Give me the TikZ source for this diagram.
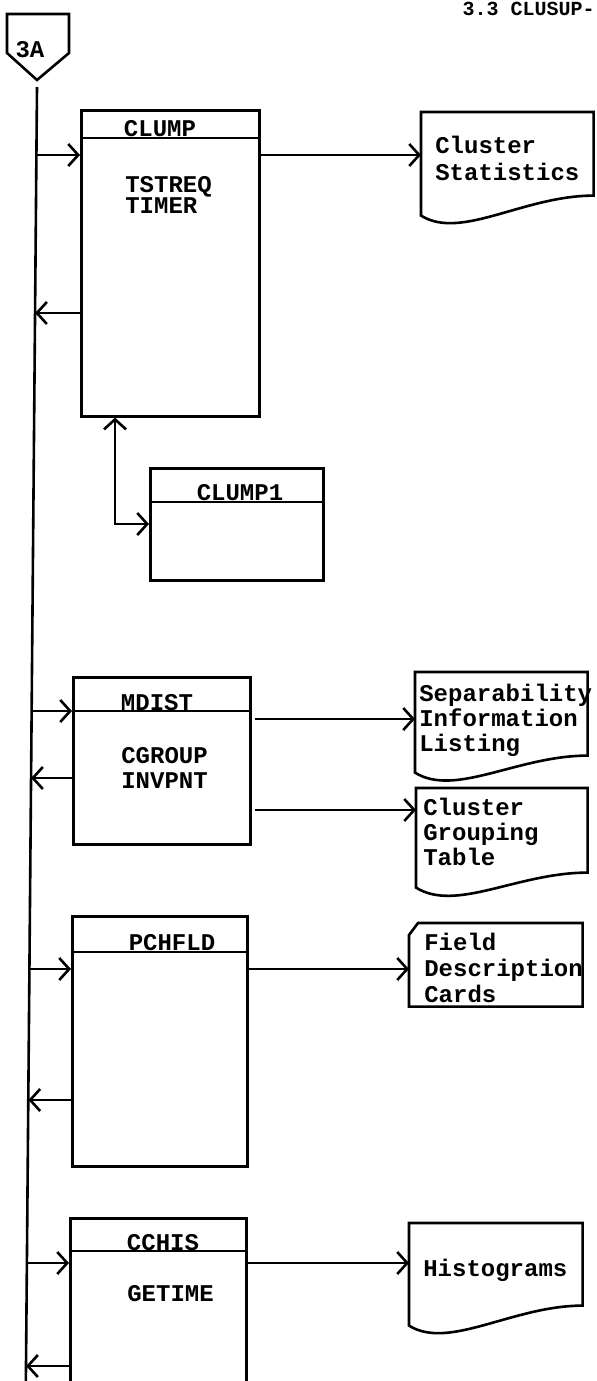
\documentclass[tikz,border=0pt]{standalone}
\usepackage{fontspec}
\newfontfamily\typefont{Liberation Mono}
\usetikzlibrary{arrows.meta,calc}

% printout outline round an empty node, #2 = drop of the left corner
\newcommand{\printout}[2]{%
  \draw (#1.north west) -- (#1.north east) -- (#1.south east)
    .. controls ($(#1.south east)+(-70,0)$) and ($(#1.south west)+(40,#2+25)$)
    .. ($(#1.south west)+(0,#2)$) -- cycle;}

\begin{document}
\begin{tikzpicture}[x=0.5pt,y=-0.5pt,line width=1.3pt,
  flow/.style={-{Straight Barb[length=5pt,width=11pt]}},
  twoway/.style={{Straight Barb[length=5pt,width=11pt]}-{Straight Barb[length=5pt,width=11pt]}},
  module/.style={draw,rectangle,anchor=north west,inner sep=0pt},
  report/.style={rectangle,anchor=north west,inner sep=0pt},
  modname/.style={font=\typefont\bfseries\fontsize{12}{13}\selectfont,inner sep=0pt},
  typed/.style={font=\typefont\bfseries\fontsize{12}{#1}\selectfont,anchor=base west,align=left,inner sep=0pt},
  typed/.default=13]
  \useasboundingbox (0,0) rectangle (596,1381);
  \clip (0,0) rectangle (596,1381);

  \node[font=\typefont\bfseries\fontsize{10}{12}\selectfont,anchor=base east,inner sep=0pt] (page) at (596,15) {3.3 CLUSUP-};

  % off-page connector and the main line
  \draw (7,14) -- (69,14) -- (69,53) -- (37,80) -- (7,53) -- cycle;
  \node[font=\typefont\bfseries\fontsize{12}{13}\selectfont,inner sep=0pt] (offpg) at (30,50) {3A};
  \coordinate (bustop) at (37,87);
  \coordinate (busend) at (25.8,1390);
  \draw (bustop) -- (busend);
  \coordinate (b1) at (36.4,155);
  \coordinate (b2) at (35.1,313);
  \coordinate (b3) at (31.7,711);
  \coordinate (b4) at (31.1,778);
  \coordinate (b5) at (29.5,969);
  \coordinate (b6) at (28.4,1100);
  \coordinate (b7) at (27.0,1263);
  \coordinate (b8) at (26.1,1366);

  % CLUMP
  \node[module,minimum width=89pt,minimum height=153pt] (clump) at (80,109) {};
  \draw ([yshift=-14.5pt]clump.north west) -- ([yshift=-14.5pt]clump.north east);
  \node[modname] (clumpname) at (160,129) {CLUMP};
  \node[typed=10.5] (clumpcalls) at (124,213) {TSTREQ\\TIMER};
  \draw[flow] (b1) -- (clump.west |- b1);
  \draw[flow] (clump.west |- b2) -- (b2);

  \node[report,minimum width=85pt,minimum height=40.5pt] (cstat) at (421,112) {};
  \printout{cstat}{20}
  \node[typed=13.5] (cstattext) at (434,180) {Cluster\\Statistics};
  \draw[flow] (clump.east |- b1) -- (cstat.west |- b1);

  % CLUMP1
  \node[module,minimum width=86.5pt,minimum height=56pt] (clumpone) at (149,467) {};
  \draw ([yshift=-17.5pt]clumpone.north west) -- ([yshift=-17.5pt]clumpone.north east);
  \node[modname] (clumponename) at (240,493) {CLUMP1};
  \coordinate (tap) at (115,524);
  \draw[twoway] (clump.south -| tap) |- (clumpone.west |- tap);

  % MDIST
  \node[module,minimum width=88.5pt,minimum height=83.5pt] (mdist) at (72,676) {};
  \draw ([yshift=-17.5pt]mdist.north west) -- ([yshift=-17.5pt]mdist.north east);
  \node[modname] (mdistname) at (157,703) {MDIST};
  \node[typed=12.5] (mdistcalls) at (120,788) {CGROUP\\INVPNT};
  \draw[flow] (b3) -- (mdist.west |- b3);
  \draw[flow] (mdist.west |- b4) -- (b4);

  \node[report,minimum width=85pt,minimum height=40.5pt] (sepinf) at (415,672) {};
  \printout{sepinf}{17}
  \node[typed=12.5] (sepinftext) at (418,751) {Separability\\Information\\Listing};
  \coordinate (sep) at (255,719);
  \draw[flow] (sep) -- (sepinf.west |- sep);

  \node[report,minimum width=84.5pt,minimum height=41pt] (cgroup) at (416,788) {};
  \printout{cgroup}{15}
  \node[typed=12.5] (cgrouptext) at (422,865) {Cluster\\Grouping\\Table};
  \coordinate (grp) at (255,810);
  \draw[flow] (grp) -- (cgroup.west |- grp);

  % PCHFLD
  \node[module,minimum width=87.5pt,minimum height=125pt] (pchfld) at (71,915) {};
  \draw ([yshift=-18.5pt]pchfld.north west) -- ([yshift=-18.5pt]pchfld.north east);
  \node[modname] (pchfldname) at (172,943) {PCHFLD};
  \draw[flow] (b5) -- (pchfld.west |- b5);
  \draw[flow] (pchfld.west |- b6) -- (b6);

  \node[report,minimum width=85.5pt,minimum height=40.5pt] (field) at (409,923) {};
  \draw ($(field.north west)+(9,0)$) -- (field.north east) -- (field.south east)
    -- (field.south west) -- ($(field.north west)+(0,12)$) -- cycle;
  \node[typed=13] (fieldtext) at (423,1002) {Field\\Description\\Cards};
  \draw[flow] (pchfld.east |- b5) -- (field.west |- b5);

  % CCHIS
  \node[module,minimum width=88pt,minimum height=100pt] (cchis) at (69,1217) {};
  \draw ([yshift=-17pt]cchis.north west) -- ([yshift=-17pt]cchis.north east);
  \node[modname] (cchisname) at (163,1243) {CCHIS};
  \node[typed] (cchiscalls) at (126,1301) {GETIME};
  \draw[flow] (b7) -- (cchis.west |- b7);
  \draw[flow] (cchis.west |- b8) -- (b8);

  \node[report,minimum width=85.5pt,minimum height=40pt] (histo) at (409,1223) {};
  \printout{histo}{20}
  \node[typed] (histotext) at (422,1276) {Histograms};
  \draw[flow] (cchis.east |- b7) -- (histo.west |- b7);
\end{tikzpicture}
\end{document}
